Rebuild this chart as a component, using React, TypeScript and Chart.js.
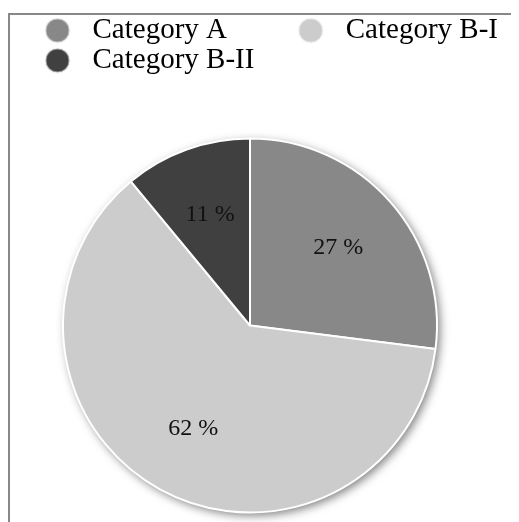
import React, { useEffect, useRef } from 'react';
import { Chart, registerables } from 'chart.js';

Chart.register(...registerables);

const categories = ['Category A', 'Category B-I', 'Category B-II'];
const shares = [27, 62, 11];
const sliceColors = ['#888888', '#cccccc', '#404040'];

const SERIF = '"Liberation Serif", "Times New Roman", serif';
const CANVAS_W = 540;
const CANVAS_H = 551;
const PLOT_W = 480;

function makeMark(color: string) {
  const c = document.createElement('canvas');
  c.width = 52;
  c.height = 26;
  const g = c.getContext('2d')!;
  g.beginPath();
  g.arc(39, 13, 12, 0, Math.PI * 2);
  g.fillStyle = color;
  g.fill();
  g.lineWidth = 1;
  g.strokeStyle = '#eeeeee';
  g.stroke();
  return c;
}

const plotWidth = {
  id: 'plotWidth',
  afterLayout(chart: any) {
    const a = chart.chartArea;
    a.right = a.left + PLOT_W;
    a.width = PLOT_W;
  },
};

const pieShadow = {
  id: 'pieShadow',
  beforeDatasetsDraw(chart: any) {
    const arc = chart.getDatasetMeta(0).data[0];
    if (!arc) return;
    const { x, y, outerRadius } = arc.getProps(['x', 'y', 'outerRadius'], true);
    const ctx = chart.ctx;
    ctx.save();
    ctx.shadowColor = 'rgba(0,0,0,0.5)';
    ctx.shadowBlur = 10;
    ctx.shadowOffsetX = 3;
    ctx.shadowOffsetY = 3;
    ctx.beginPath();
    ctx.arc(x, y, outerRadius, 0, Math.PI * 2);
    ctx.fillStyle = '#ffffff';
    ctx.fill();
    ctx.restore();
  },
};

const pctLabels = {
  id: 'pctLabels',
  afterDatasetsDraw(chart: any) {
    const meta = chart.getDatasetMeta(0);
    const ctx = chart.ctx;
    ctx.save();
    ctx.font = `24px ${SERIF}`;
    ctx.fillStyle = '#111111';
    ctx.textAlign = 'center';
    ctx.textBaseline = 'middle';
    meta.data.forEach((el: any, i: number) => {
      const { x, y, startAngle, endAngle, outerRadius } = el.getProps(
        ['x', 'y', 'startAngle', 'endAngle', 'outerRadius'],
        true
      );
      const mid = (startAngle + endAngle) / 2;
      const r = outerRadius * 0.63;
      ctx.fillText(`${shares[i]} %`, x + Math.cos(mid) * r, y + Math.sin(mid) * r);
    });
    ctx.restore();
  },
};

export default function App() {
  const ref = useRef<HTMLCanvasElement>(null);

  useEffect(() => {
    if (!ref.current) return;
    const marks = sliceColors.map(makeMark);
    const chart = new Chart(ref.current, {
      type: 'pie',
      data: {
        labels: categories,
        datasets: [
          {
            data: shares,
            backgroundColor: sliceColors,
            borderColor: '#ffffff',
            borderWidth: 2,
            hoverOffset: 0,
            radius: 187,
          } as any,
        ],
      },
      options: {
        responsive: false,
        animation: false,
        events: [],
        plugins: {
          tooltip: { enabled: false },
          legend: {
            position: 'top',
            align: 'start',
            labels: {
              usePointStyle: true,
              pointStyleWidth: 67,
              padding: 1,
              color: '#000000',
              font: { family: SERIF, size: 29 },
              generateLabels: () =>
                categories.map((c, i) => ({
                  text: c.padEnd(15, ' '),
                  fillStyle: sliceColors[i],
                  strokeStyle: '#ffffff',
                  lineWidth: 0,
                  pointStyle: marks[i] as any,
                  hidden: false,
                  index: i,
                  fontColor: '#000000',
                })),
            },
          },
        },
      },
      plugins: [plotWidth, pieShadow, pctLabels],
    });
    return () => chart.destroy();
  }, []);

  return (
    <div
      style={{
        width: 511,
        height: 514,
        overflow: 'hidden',
        paddingTop: 5,
        boxSizing: 'border-box',
      }}
    >
      <div style={{ border: '2px solid #888888', width: 560, height: 580 }}>
        <canvas ref={ref} width={CANVAS_W} height={CANVAS_H} style={{ display: 'block' }} />
      </div>
    </div>
  );
}
